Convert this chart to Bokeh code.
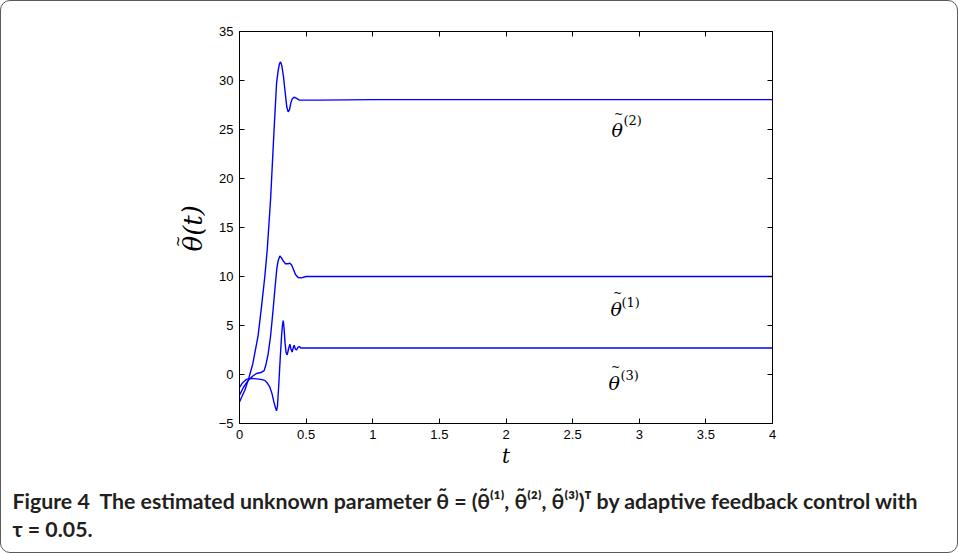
from bokeh.plotting import figure
from bokeh.models import Label, LinearAxis, FixedTicker, Range1d
from bokeh.layouts import column, row
from bokeh.embed import file_html
from bokeh.resources import INLINE

# ---------------- data ----------------
t1 = [0.0, 0.03, 0.065, 0.1, 0.128, 0.16, 0.185, 0.2, 0.215, 0.233, 0.25, 0.265,
      0.28, 0.29, 0.303, 0.315, 0.328, 0.345, 0.365, 0.378, 0.39, 0.403, 0.42,
      0.44, 0.465, 0.5, 0.6, 1.0, 2.0, 3.0, 4.0]
v1 = [-2.1, -1.3, -0.6, -0.15, 0.1, 0.2, 0.4, 1.1, 2.1, 3.9, 6.3, 8.6,
      10.8, 11.6, 12.1, 11.9, 11.6, 11.3, 11.3, 11.36, 11.2, 10.8, 10.2,
      9.9, 9.86, 10.0, 10.0, 10.0, 10.0, 10.0, 10.0]

t2 = [0.0, 0.02, 0.04, 0.065, 0.1, 0.14, 0.165, 0.19, 0.208, 0.233, 0.258, 0.278,
      0.29, 0.3, 0.308, 0.318, 0.33, 0.345, 0.355, 0.365, 0.375, 0.385, 0.395,
      0.41, 0.425, 0.45, 0.6, 1.0, 2.0, 3.0, 4.0]
v2 = [-2.8, -2.2, -1.6, -0.6, 1.1, 4.0, 6.9, 10.0, 12.7, 17.8, 24.6, 29.7,
      31.0, 31.7, 31.9, 31.5, 30.4, 28.5, 27.3, 26.8, 27.0, 27.7, 28.1,
      28.3, 28.2, 28.0, 28.0, 28.05, 28.05, 28.05, 28.05]

t3 = [0.0, 0.02, 0.05, 0.09, 0.128, 0.16, 0.19, 0.21, 0.228, 0.245, 0.258, 0.27,
      0.278, 0.285, 0.295, 0.305, 0.315, 0.322, 0.328, 0.334, 0.342, 0.35, 0.358,
      0.368, 0.378, 0.386, 0.395, 0.403, 0.41, 0.419, 0.428, 0.44, 0.45, 0.46,
      0.47, 0.5, 0.6, 1.0, 2.0, 3.0, 4.0]
v3 = [-1.3, -0.9, -0.5, -0.4, -0.45, -0.5, -0.6, -0.9, -1.3, -2.0, -2.8, -3.4,
      -3.7, -3.2, -1.0, 1.5, 3.8, 5.0, 5.5, 4.8, 3.2, 2.2, 2.0,
      2.6, 3.1, 2.6, 2.3, 2.7, 3.0, 2.6, 2.5, 2.8, 2.85, 2.7,
      2.7, 2.7, 2.7, 2.7, 2.7, 2.7, 2.7]

x_ticks = [0, 0.5, 1, 1.5, 2, 2.5, 3, 3.5, 4]
x_tick_labels = ["0", "0.5", "1", "1.5", "2", "2.5", "3", "3.5", "4"]
y_ticks = [-5, 0, 5, 10, 15, 20, 25, 30, 35]
y_tick_labels = ["\u22125", "0", "5", "10", "15", "20", "25", "30", "35"]

series_labels = ["(1)", "(2)", "(3)"]
theta = "\u03b8"
tilde = "~"
x_title = "t"
y_title = theta + "(t)"
caption_1 = ("Figure 4\u00a0\u00a0The estimated unknown parameter \u03b8\u0303 = "
             "(\u03b8\u0303\u207d\u00b9\u207e, \u03b8\u0303\u207d\u00b2\u207e, "
             "\u03b8\u0303\u207d\u00b3\u207e)\u1d40 by adaptive feedback control with")
caption_2 = "\u03c4 = 0.05."

SERIF = "DejaVu Serif"
CAP_FONT = "Lato"

# ---------------- layout sizes (page px, 1px border) ----------------
TOP_H = 482          # height of the chart row
LEFT_W = 212         # width of the y-title strip
MAIN_W = 956 - LEFT_W
CAP_H = 551 - TOP_H


def blank(w, h, x0, x1, y0, y1):
    f = figure(width=w, height=h, title=None, x_range=Range1d(x0, x1),
               y_range=Range1d(y0, y1), output_backend="svg", toolbar_location=None,
               min_border=0, x_axis_location=None, y_axis_location=None,
               background_fill_color=None, border_fill_color=None,
               outline_line_color=None)
    f.xgrid.visible = False
    f.ygrid.visible = False
    return f


# ---------------- main chart ----------------
p = figure(width=MAIN_W, height=TOP_H, title=None,
           x_range=Range1d(0, 4), y_range=Range1d(-5, 35),
           output_backend="svg", toolbar_location=None,
           min_border_left=239 - (LEFT_W + 1), min_border_right=957 - 772,
           min_border_top=30, min_border_bottom=TOP_H - 422,
           background_fill_color=None, border_fill_color=None,
           outline_line_color="black")
p.xgrid.visible = False
p.ygrid.visible = False

for ax, ticks, labels in ((p.xaxis[0], x_ticks, x_tick_labels),
                          (p.yaxis[0], y_ticks, y_tick_labels)):
    ax.ticker = FixedTicker(ticks=ticks)
    ax.major_label_overrides = {float(k): l for k, l in zip(ticks, labels)}
    ax.major_tick_in = 5
    ax.major_tick_out = 0
    ax.minor_tick_line_color = None
    ax.axis_line_color = "black"
    ax.major_tick_line_color = "black"
    ax.major_label_text_font = "Liberation Sans"
    ax.major_label_text_font_size = "13px"
    ax.major_label_text_color = "black"
    ax.major_label_standoff = 6

p.xaxis[0].axis_label = x_title
p.xaxis[0].axis_label_text_font = SERIF
p.xaxis[0].axis_label_text_font_style = "italic"
p.xaxis[0].axis_label_text_font_size = "20px"
p.xaxis[0].axis_label_text_color = "black"
p.xaxis[0].axis_label_standoff = 2

top = LinearAxis(ticker=FixedTicker(ticks=x_ticks), major_label_text_font_size="8px",
                 major_label_text_color=None, major_tick_in=5, major_tick_out=0,
                 minor_tick_line_color=None, major_label_standoff=0)
right = LinearAxis(ticker=FixedTicker(ticks=y_ticks), major_label_text_font_size="8px",
                   major_label_text_color=None, major_tick_in=5, major_tick_out=0,
                   minor_tick_line_color=None, major_label_standoff=0)
p.add_layout(top, "above")
p.add_layout(right, "right")

for t, v in ((t1, v1), (t2, v2), (t3, v3)):
    p.line(t, v, line_color="#0000ff", line_width=1.4)


def tx(px):
    return (px - 239) / 133.25


def vy(py):
    return (374 - py) / 9.8


# curve labels: theta left px, theta baseline py, superscript left px, superscript baseline py
label_pos = [(610, 308, 621, 302), (611, 129, 623, 120), (608, 382, 620, 375)]
for (lx, ly, sx, sy), sup in zip(label_pos, series_labels):
    p.add_layout(Label(x=tx(lx), y=vy(ly), text=theta, text_font=SERIF,
                       text_font_style="italic", text_font_size="19px",
                       text_baseline="alphabetic", text_color="black"))
    p.add_layout(Label(x=tx(lx + 7), y=vy(ly - 15), text=tilde, text_font=SERIF,
                       text_font_size="11px", text_align="center",
                       text_baseline="middle", text_color="black"))
    p.add_layout(Label(x=tx(sx), y=vy(sy), text=sup, text_font=SERIF,
                       text_font_size="13px", text_baseline="alphabetic",
                       text_color="black"))

# ---------------- y-title strip ----------------
yl = blank(LEFT_W, TOP_H, 0, LEFT_W, TOP_H, 0)
yl.add_layout(Label(x=192 - 1, y=243 - 1, text=y_title, angle=1.5708,
                    text_font=SERIF, text_font_style="italic", text_font_size="26px",
                    text_align="center", text_baseline="middle", text_color="black"))
yl.add_layout(Label(x=177.5 - 1, y=259 - 1, text=tilde, angle=1.5708,
                    text_font=SERIF, text_font_size="14px",
                    text_align="center", text_baseline="middle", text_color="black"))

# ---------------- caption strip ----------------
cap = blank(956, CAP_H, 0, 956, CAP_H, 0)
cap.add_layout(Label(x=12 - 1, y=500 - 1 - TOP_H, text=caption_1, text_font=CAP_FONT,
                     text_font_style="bold", text_font_size="21.3px",
                     text_baseline="middle", text_color="#231f20"))
cap.add_layout(Label(x=12 - 1, y=528 - 1 - TOP_H, text=caption_2, text_font=CAP_FONT,
                     text_font_style="bold", text_font_size="21.3px",
                     text_baseline="middle", text_color="#231f20"))

layout = column(row(yl, p), cap)
layout.styles = {"border": "1px solid #5a5a5a", "border-radius": "10px",
                 "overflow": "hidden"}

open("out.html", "w").write(file_html(layout, INLINE))
